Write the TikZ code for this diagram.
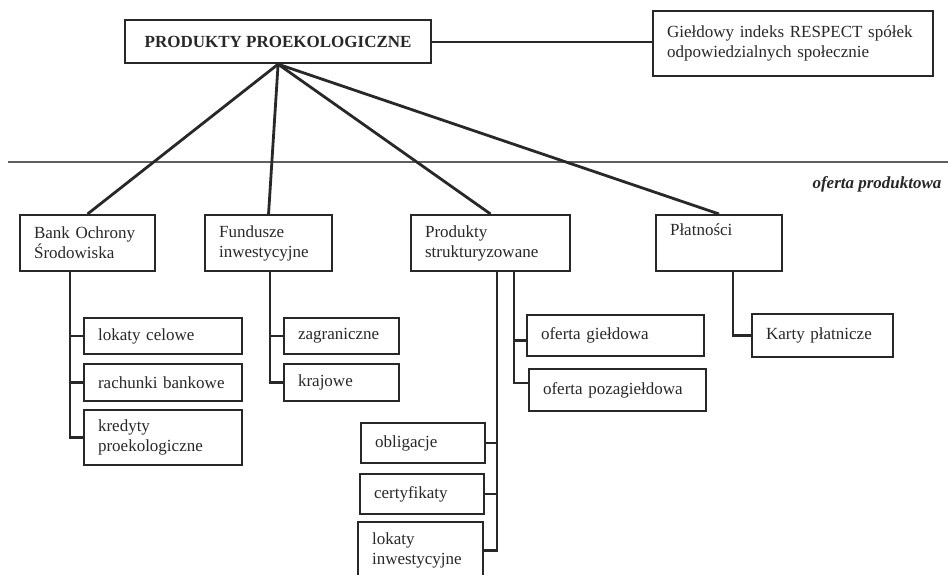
\documentclass[tikz,border=0pt]{standalone}
\usepackage{fontspec}
\setmainfont{Liberation Serif}
\usetikzlibrary{positioning,calc}
\definecolor{ink}{RGB}{40,40,40}
\definecolor{rulegray}{RGB}{95,95,95}
\tikzset{
  item/.style={rectangle, draw=ink, line width=2.1pt, anchor=north west,
               align=left, inner xsep=14pt, inner ysep=0pt, text=ink,
               font=\fontsize{17}{20}\selectfont},
  title/.style={rectangle, draw=ink, line width=2.2pt, anchor=north west,
                align=center, inner sep=0pt, text=ink,
                font=\fontsize{17}{20}\selectfont\bfseries},
  fan/.style={draw=ink, line width=2.8pt},
  branch/.style={draw=ink, line width=2.2pt}
}

\begin{document}
\begin{tikzpicture}[x=1pt, y=-1pt]
\useasboundingbox (0,0) rectangle (948,574);
\clip (0,0) rectangle (948,574);
% header
\node[title, minimum width=306pt, minimum height=43pt] (top) at (124,19) {PRODUKTY PROEKOLOGICZNE};
\node[item, text width=252pt, minimum height=65pt] (resp) at (652,10) {Giełdowy indeks RESPECT spółek\\odpowiedzialnych społecznie};
\draw[rulegray, line width=1.3pt] (8,162) -- (948,162);
\node[anchor=base east, text=ink, font=\fontsize{17}{20}\selectfont\bfseries\itshape] (offer) at (945,188) {oferta produktowa};
% main groups
\node[item, text width=107pt, minimum height=56pt] (bank) at (19,214) {Bank Ochrony\\Środowiska};
\node[item, text width=99pt, minimum height=56pt] (fund) at (204,214) {Fundusze\\inwestycyjne};
\node[item, text width=131pt, minimum height=56pt] (prod) at (410,214) {Produkty\\strukturyzowane};
\node[item, text width=98pt, minimum height=56pt] (plat) at (655,214) {Płatności\\\strut};
% bank
\node[item, text width=130pt, minimum height=36pt] (lok) at (83,317) {lokaty celowe};
\node[item, text width=130pt, minimum height=37pt] (rach) at (83,363) {rachunki bankowe};
\node[item, text width=130pt, minimum height=55pt] (kred) at (83,409) {kredyty\\proekologiczne};
% fundusze
\node[item, text width=87pt, minimum height=36pt] (zagr) at (283,317) {zagraniczne};
\node[item, text width=87pt, minimum height=37pt] (kraj) at (283,363) {krajowe};
% produkty
\node[item, text width=149pt, minimum height=41pt] (gield) at (526,314) {oferta giełdowa};
\node[item, text width=149pt, minimum height=42pt] (pozag) at (528,368) {oferta pozagiełdowa};
\node[item, text width=96pt, minimum height=40pt] (oblig) at (360,422) {obligacje};
\node[item, text width=96pt, minimum height=40pt] (cert) at (359,473) {certyfikaty};
\node[item, text width=97pt, minimum height=57pt] (lokinw) at (357,521) {lokaty\\inwestycyjne};
% platnosci
\node[item, text width=113pt, minimum height=43pt] (karty) at (751,313) {Karty płatnicze};

% connectors
\draw[branch] (top.east) -- (top.east -| resp.west);
\foreach \n in {bank,fund,prod,plat}
  \draw[fan] (top.south) -- (\n.north);

\coordinate (bankbus) at (70,271);
\draw[branch] (bankbus) |- (kred.west);
\foreach \n in {lok,rach}
  \draw[branch] (bankbus |- \n.west) -- (\n.west);

\coordinate (fundbus) at (270,271);
\draw[branch] (fundbus) |- (kraj.west);
\draw[branch] (fundbus |- zagr.west) -- (zagr.west);

\coordinate (offbus) at (514,271);
\draw[branch] (offbus) |- ([yshift=7pt]pozag.west);
\draw[branch] (offbus |- gield.west) ++(0,5) -- ([yshift=-5pt]gield.west);

\coordinate (instbus) at (497,271);
\draw[branch] (instbus) |- (lokinw.east);
\foreach \n in {oblig,cert}
  \draw[branch] (instbus |- \n.east) -- (\n.east);

\coordinate (platbus) at (733,271);
\draw[branch] (platbus) |- (karty.west);
\end{tikzpicture}
\end{document}
